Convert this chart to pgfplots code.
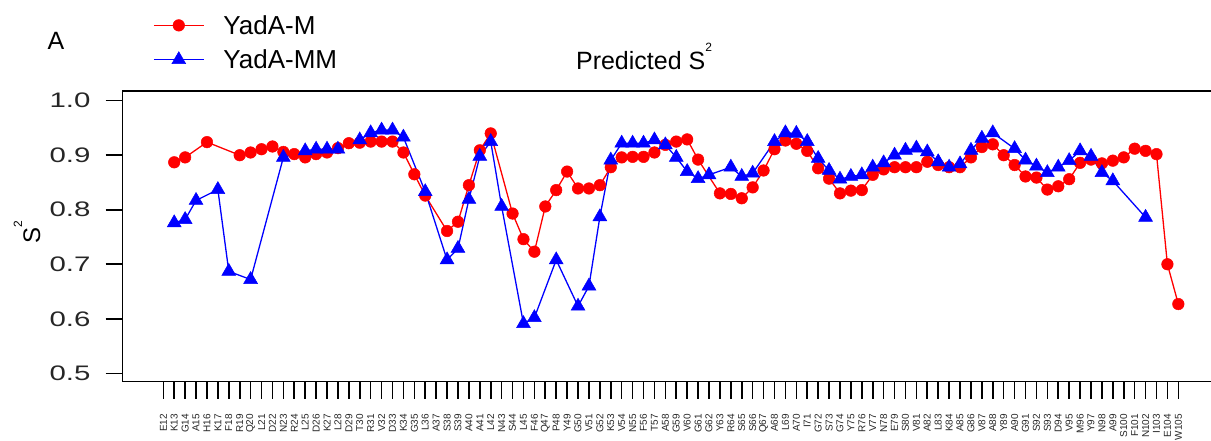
\documentclass[border=0pt]{standalone}
\usepackage{pgfplots}
\pgfplotsset{compat=1.18}
\usepackage{pgfplotstable}
\usepackage{fontspec}
\setmainfont{Liberation Sans}

\pgfplotstableread{
r v
13 0.887
14 0.896
16 0.924
19 0.900
20 0.905
21 0.911
22 0.916
23 0.906
24 0.902
25 0.896
26 0.902
27 0.905
28 0.913
29 0.922
30 0.923
31 0.925
32 0.925
33 0.925
34 0.905
35 0.865
36 0.826
38 0.761
39 0.778
40 0.845
41 0.909
42 0.940
44 0.793
45 0.746
46 0.723
47 0.806
48 0.836
49 0.870
50 0.839
51 0.839
52 0.845
53 0.878
54 0.896
55 0.897
56 0.897
57 0.905
58 0.919
59 0.925
60 0.929
61 0.892
63 0.830
64 0.829
65 0.821
66 0.841
67 0.872
68 0.911
69 0.927
70 0.921
71 0.908
72 0.876
73 0.857
74 0.830
75 0.835
76 0.836
77 0.864
78 0.874
79 0.878
80 0.878
81 0.878
82 0.888
83 0.882
84 0.878
85 0.878
86 0.896
87 0.915
88 0.920
89 0.900
90 0.882
91 0.861
92 0.859
93 0.837
94 0.843
95 0.856
96 0.886
97 0.892
98 0.885
99 0.890
100 0.896
101 0.912
102 0.908
103 0.902
104 0.700
105 0.627
}\yadaM

\pgfplotstableread{
r v
13 0.776
14 0.782
15 0.817
17 0.837
18 0.687
20 0.672
23 0.896
25 0.908
26 0.911
27 0.911
28 0.911
30 0.928
31 0.941
32 0.946
33 0.946
34 0.933
36 0.833
38 0.708
39 0.729
40 0.819
41 0.898
42 0.925
43 0.806
45 0.591
46 0.602
48 0.708
50 0.623
51 0.660
52 0.787
53 0.891
54 0.922
55 0.922
56 0.922
57 0.928
58 0.919
59 0.896
60 0.870
61 0.857
62 0.864
64 0.878
65 0.861
66 0.867
68 0.925
69 0.941
70 0.940
71 0.925
72 0.894
73 0.872
74 0.856
75 0.861
76 0.864
77 0.878
78 0.886
79 0.900
80 0.909
81 0.913
82 0.906
83 0.888
84 0.878
85 0.884
86 0.909
87 0.931
88 0.941
90 0.912
91 0.891
92 0.880
93 0.868
94 0.878
95 0.890
96 0.908
97 0.898
98 0.868
99 0.853
102 0.786
}\yadaMM

\newcommand{\supt}{\raisebox{0.75em}{\fontsize{12}{12}\selectfont 2}}

\begin{document}
\begin{tikzpicture}
\useasboundingbox (0,0) rectangle (1211pt,441pt);
\node[font=\fontsize{25}{30}\selectfont] at (56pt,400pt) {A};
\begin{axis}[
  at={(122.7pt,59.3pt)}, anchor=south west,
  scale only axis, width=1092.3pt, height=290.7pt,
  xmin=8.28, xmax=108.36, ymin=0.4846, ymax=1.0178,
  axis line style={line width=1.5pt},
  tick pos=left, tick align=outside,
  major tick length=17pt,
  major tick style={line width=1.6pt, black},
  xtick={12,...,105},
  xticklabels={E12,K13,G14,A15,H16,K17,F18,R19,Q20,L21,D22,N23,R24,L25,D26,K27,L28,D29,T30,R31,V32,D33,K34,G35,L36,A37,S38,S39,A40,A41,L42,N43,S44,L45,F46,Q47,P48,Y49,G50,V51,G52,K53,V54,N55,F56,T57,A58,G59,V60,G61,G62,Y63,R64,S65,S66,Q67,A68,L69,A70,I71,G72,S73,G74,Y75,R76,V77,N78,E79,S80,V81,A82,L83,K84,A85,G86,V87,A88,Y89,A90,G91,S92,S93,D94,V95,M96,Y97,N98,A99,S100,F101,N102,I103,E104,W105},
  xticklabel style={yshift=-15pt, rotate=90, anchor=east, inner sep=0pt, font=\fontsize{10}{10}\selectfont, text=black!85},
  ytick={0.5,0.6,0.7,0.8,0.9,1.0},
  yticklabel={\scalebox{1.4}[1]{\pgfmathprintnumber[fixed,fixed zerofill,precision=1,assume math mode=true]{\tick}}},
  yticklabel style={xshift=-15pt, anchor=east, inner sep=0pt, font=\fontsize{21}{24}\selectfont, text=black!85},
  title={Predicted S\supt},
  title style={at={(axis description cs:0.4773,1.052)}, anchor=base, font=\fontsize{25}{30}\selectfont},
  ylabel={S\supt},
  ylabel style={at={(axis description cs:-0.0876,0.515)}, anchor=center, font=\fontsize{24}{28}\selectfont},
  legend style={at={(axis description cs:0.0277,1.2614)}, anchor=north west, draw=none, fill=none,
    inner sep=0pt, column sep=19pt, row sep=14pt,
    font=\fontsize{26}{30}\selectfont, nodes={inner sep=0pt}},
  legend cell align=left,
  legend image code/.code={\draw[mark repeat=2,mark phase=2,#1] plot coordinates {(0pt,0pt) (25pt,0pt) (50pt,0pt)};},
]
\addplot[red, line width=1.3pt, mark=*, mark size=5.8pt, mark options={fill=red, draw=red, line width=0.5pt}] table[x=r,y=v] {\yadaM};
\addlegendentry{YadA-M}
\addplot[blue, line width=1.3pt, mark=triangle*, mark size=8pt, mark options={fill=blue, draw=blue, line width=0.5pt}] table[x=r,y=v] {\yadaMM};
\addlegendentry{YadA-MM}
\end{axis}
\end{tikzpicture}
\end{document}
